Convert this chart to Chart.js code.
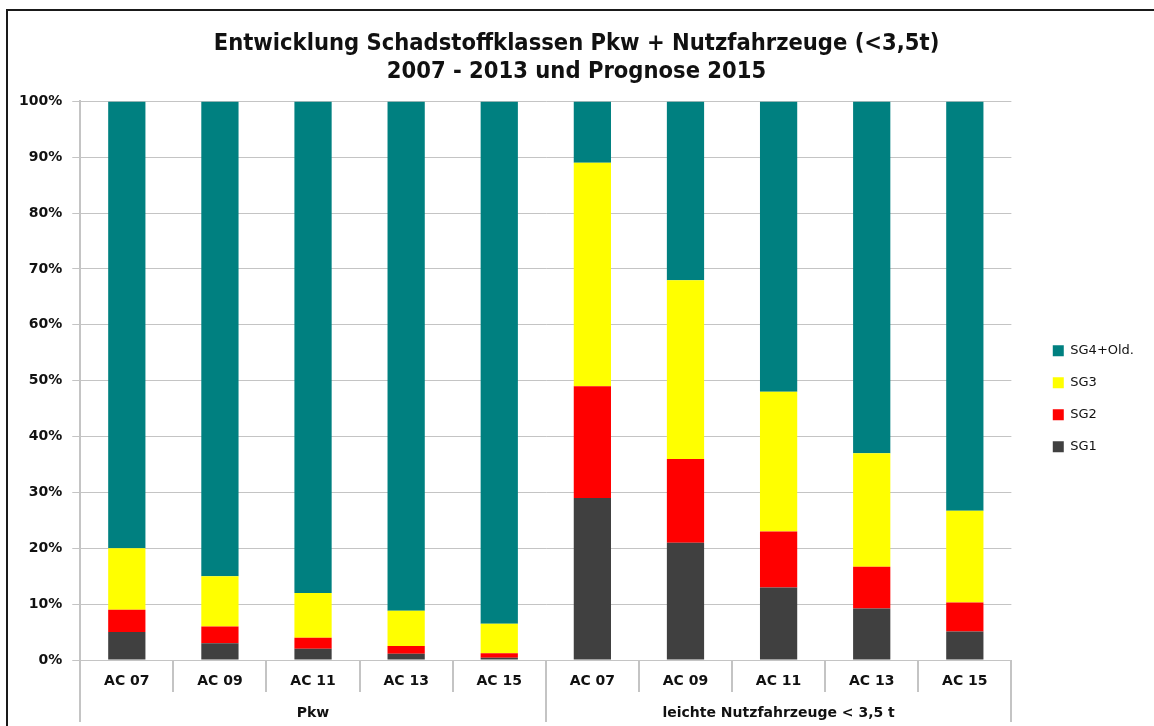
<!DOCTYPE html>
<html>
<head>
<meta charset="utf-8">
<script src="https://cdn.jsdelivr.net/npm/chart.js@4.4.0/dist/chart.umd.min.js"></script>
<style>
  body { margin: 0; background: #fff; }
  #frame {
    position: absolute; left: 6px; top: 9px;
    width: 1146px; height: 715px;
    border-left: 2px solid #1a1a1a; border-top: 2px solid #1a1a1a;
  }
  canvas { display: block; }
</style>
</head>
<body>
<div id="frame"><canvas id="chart" width="1146" height="715"></canvas></div>
<script>
const categories = ["AC 07", "AC 09", "AC 11", "AC 13", "AC 15", "AC 07", "AC 09", "AC 11", "AC 13", "AC 15"];
const groups = ["Pkw", "leichte Nutzfahrzeuge < 3,5 t"];

// shares in percent, bottom to top
const sg1 = [5, 3, 2, 1.1, 0.4, 29, 21, 13, 9.2, 5.1];
const sg2 = [4, 3, 2, 1.4, 0.8, 20, 15, 10, 7.5, 5.2];
const sg3 = [11, 9, 8, 6.3, 5.3, 40, 32, 25, 20.3, 16.4];
const sg4 = [80, 85, 88, 91.2, 93.5, 11, 32, 52, 63, 73.3];

const yTicks = [0, 10, 20, 30, 40, 50, 60, 70, 80, 90, 100];

const gridGray = "#c4c4c4";
const labelFont = "'DejaVu Sans', Verdana, sans-serif";

const ctx = document.getElementById("chart").getContext("2d");
new Chart(ctx, {
  type: "bar",
  data: {
    labels: categories,
    datasets: [
      { label: "SG1", data: sg1, backgroundColor: "#404040" },
      { label: "SG2", data: sg2, backgroundColor: "#ff0000" },
      { label: "SG3", data: sg3, backgroundColor: "#ffff00" },
      { label: "SG4+Old.", data: sg4, backgroundColor: "#008080" },
    ],
  },
  options: {
    responsive: false,
    animation: false,
    barPercentage: 0.4,
    categoryPercentage: 1,
    layout: { padding: { left: 1, right: 10, bottom: 4 } },
    plugins: {
      title: {
        display: true,
        text: ["Entwicklung Schadstoffklassen Pkw + Nutzfahrzeuge (<3,5t)", "2007 - 2013 und Prognose 2015"],
        color: "#111",
        font: { family: "'Liberation Sans Narrow', 'DejaVu Sans Condensed', sans-serif", size: 23.5, weight: "bold", lineHeight: 1.2 },
        padding: { top: 19, bottom: 15 },
      },
      legend: {
        position: "right",
        reverse: true,
        title: { display: true, text: " ", padding: { top: 50 } },
        labels: {
          boxWidth: 11,
          boxHeight: 11,
          padding: 19,
          color: "#111",
          font: { family: labelFont, size: 13 },
        },
      },
      tooltip: { enabled: false },
    },
    scales: {
      x: {
        stacked: true,
        grid: { offset: true, drawOnChartArea: false, color: gridGray, tickLength: 32, lineWidth: 2 },
        border: { color: gridGray },
        ticks: { padding: -19, color: "#111", font: { family: labelFont, size: 14, weight: "bold" } },
        afterFit: (axis) => { axis.height = 32; },
      },
      x2: {
        type: "category",
        labels: groups,
        offset: true,
        grid: { offset: true, drawOnChartArea: false, color: gridGray, tickLength: 30, lineWidth: 2 },
        border: { display: false },
        ticks: { padding: -17, color: "#111", font: { family: labelFont, size: 14, weight: "bold" } },
        afterFit: (axis) => { axis.height = 30; },
      },
      y: {
        stacked: true,
        min: 0,
        max: 100,
        afterBuildTicks: (axis) => { axis.ticks = yTicks.map((v) => ({ value: v })); },
        grid: { color: gridGray, tickLength: 8 },
        border: { color: gridGray, width: 2 },
        ticks: {
          padding: 10,
          color: "#111",
          font: { family: labelFont, size: 14, weight: "bold" },
          callback: (value) => value + "%",
        },
      },
      // empty axis that only keeps space between plot and legend
      gap: {
        type: "linear",
        position: "right",
        grid: { display: false, drawTicks: false },
        border: { display: false },
        ticks: { display: false },
        title: { display: true, text: " ", font: { size: 12 }, padding: 4 },
      },
    },
  },
});
</script>
</body>
</html>
